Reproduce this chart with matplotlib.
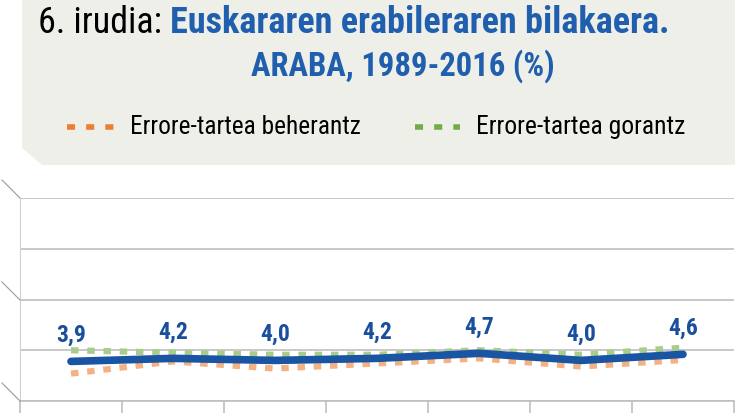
import matplotlib
matplotlib.use("Agg")
import matplotlib.pyplot as plt
from matplotlib.patches import Polygon
from matplotlib.lines import Line2D
from matplotlib import font_manager

# Datuak
urteak = ["1989", "1993", "1997", "2001", "2006", "2011", "2016"]
erabilera = [3.9, 4.2, 4.0, 4.2, 4.7, 4.0, 4.6]
beherantz = [2.7, 3.9, 3.2, 3.7, 4.2, 3.4, 4.05]
gorantz = [5.0, 4.75, 4.55, 4.55, 5.0, 4.55, 5.25]
etiketak = ["3,9", "4,2", "4,0", "4,2", "4,7", "4,0", "4,6"]

names = {f.name for f in font_manager.fontManager.ttflist}
font = "DejaVu Sans"
for cand in ["Roboto Condensed", "Open Sans Condensed", "Noto Sans Condensed",
             "Liberation Sans Narrow", "Lato", "Roboto"]:
    if cand in names:
        font = cand
        break
plt.rcParams["font.family"] = [font, "DejaVu Sans"]

W, H = 735, 413
fig = plt.figure(figsize=(W / 100, H / 100), dpi=100)
fig.patch.set_facecolor("white")
rend = fig.canvas.get_renderer()


def fx(px):
    return px / W


def fy(py):
    return 1 - py / H


def width_px(t):
    return t.get_window_extent(renderer=rend).width


def fit(texts, target, maxsize):
    # testu segida bat zabalera jakin batera egokitu
    total = sum(width_px(t) for t in texts)
    size = min(maxsize, texts[0].get_fontsize() * target / total)
    for t in texts:
        t.set_fontsize(size)
    x0 = texts[0].get_position()[0]
    for t in texts:
        t.set_x(x0)
        x0 += width_px(t) / W


# goiburuko panela
panel = Polygon([(fx(22), fy(0)), (fx(735), fy(0)), (fx(735), fy(165)),
                 (fx(42), fy(165)), (fx(22), fy(148))],
                closed=True, transform=fig.transFigure,
                facecolor="#efefea", edgecolor="none", zorder=0)
fig.patches.append(panel)

blue = "#1f5fad"
t1 = fig.text(fx(38), fy(23), "6. irudia: ", fontsize=20, color="black",
              va="center", ha="left")
t2 = fig.text(fx(180), fy(23), "Euskararen erabileraren bilakaera.", fontsize=20,
              color=blue, fontweight="bold", va="center", ha="left")
fit([t1, t2], 690, 26)
t3 = fig.text(fx(251), fy(66), "ARABA, 1989-2016 (%)", fontsize=t2.get_fontsize(),
              color=blue, fontweight="bold", va="center", ha="left")
fit([t3], 305, 26)

# legenda
fig.add_artist(Line2D([fx(67), fx(115)], [fy(127), fy(127)], color="#ed7d31",
                      lw=4, dashes=(1.45, 2.0), transform=fig.transFigure))
l1 = fig.text(fx(130), fy(127), "Errore-tartea beherantz", fontsize=15,
              color="black", va="center", ha="left")
fit([l1], 232, 21)
fig.add_artist(Line2D([fx(415), fx(460)], [fy(127), fy(127)], color="#70ad47",
                      lw=4, dashes=(1.45, 2.0), transform=fig.transFigure))
l2 = fig.text(fx(476), fy(127), "Errore-tartea gorantz", fontsize=15,
              color="black", va="center", ha="left")
fit([l2], 210, 21)

# grafikoa
ax = fig.add_axes([fx(20), fy(401), fx(714), (401 - 198) / H])
ax.set_facecolor("none")
x = range(len(urteak))
ax.plot(x, beherantz, color="#f4b183", lw=4.5, dashes=(1.2, 1.4), zorder=2)
ax.plot(x, gorantz, color="#a9cc8c", lw=4.5, dashes=(1.2, 1.4), zorder=2)
ax.plot(x, erabilera, color="#1a55a3", lw=5.5, solid_capstyle="round", zorder=3)
for i, (v, t) in enumerate(zip(erabilera, etiketak)):
    ax.annotate(t, (i, v), xytext=(0, 19), textcoords="offset points",
                ha="center", va="center", fontsize=17, fontweight="bold",
                color="#1a4f9c")

ax.set_xlim(-0.5, 6.5)
ax.set_ylim(0, 20)
ax.set_yticks([0, 5, 10, 15, 20])
ax.yaxis.grid(True, color="#bfbfbf", lw=1.2)
ax.set_axisbelow(True)
ax.set_xticks([i + 0.5 for i in range(-1, 7)])
ax.tick_params(axis="x", direction="out", length=14, color="#bfbfbf", width=1.2,
               labelbottom=False)
ax.tick_params(axis="y", length=0, labelleft=False)
for s in ["top", "right"]:
    ax.spines[s].set_visible(False)
ax.spines["left"].set_color("#d0d0d0")
ax.spines["bottom"].set_color("#bfbfbf")
ax.spines["bottom"].set_linewidth(1.2)

# 3D hormaren sakonera lerroak
for py in [198, 300, 401]:
    fig.add_artist(Line2D([fx(2), fx(20)], [fy(py - 18), fy(py)], color="#9a9a9a",
                          lw=0.8, transform=fig.transFigure))

fig.savefig("out.png", dpi=100)
